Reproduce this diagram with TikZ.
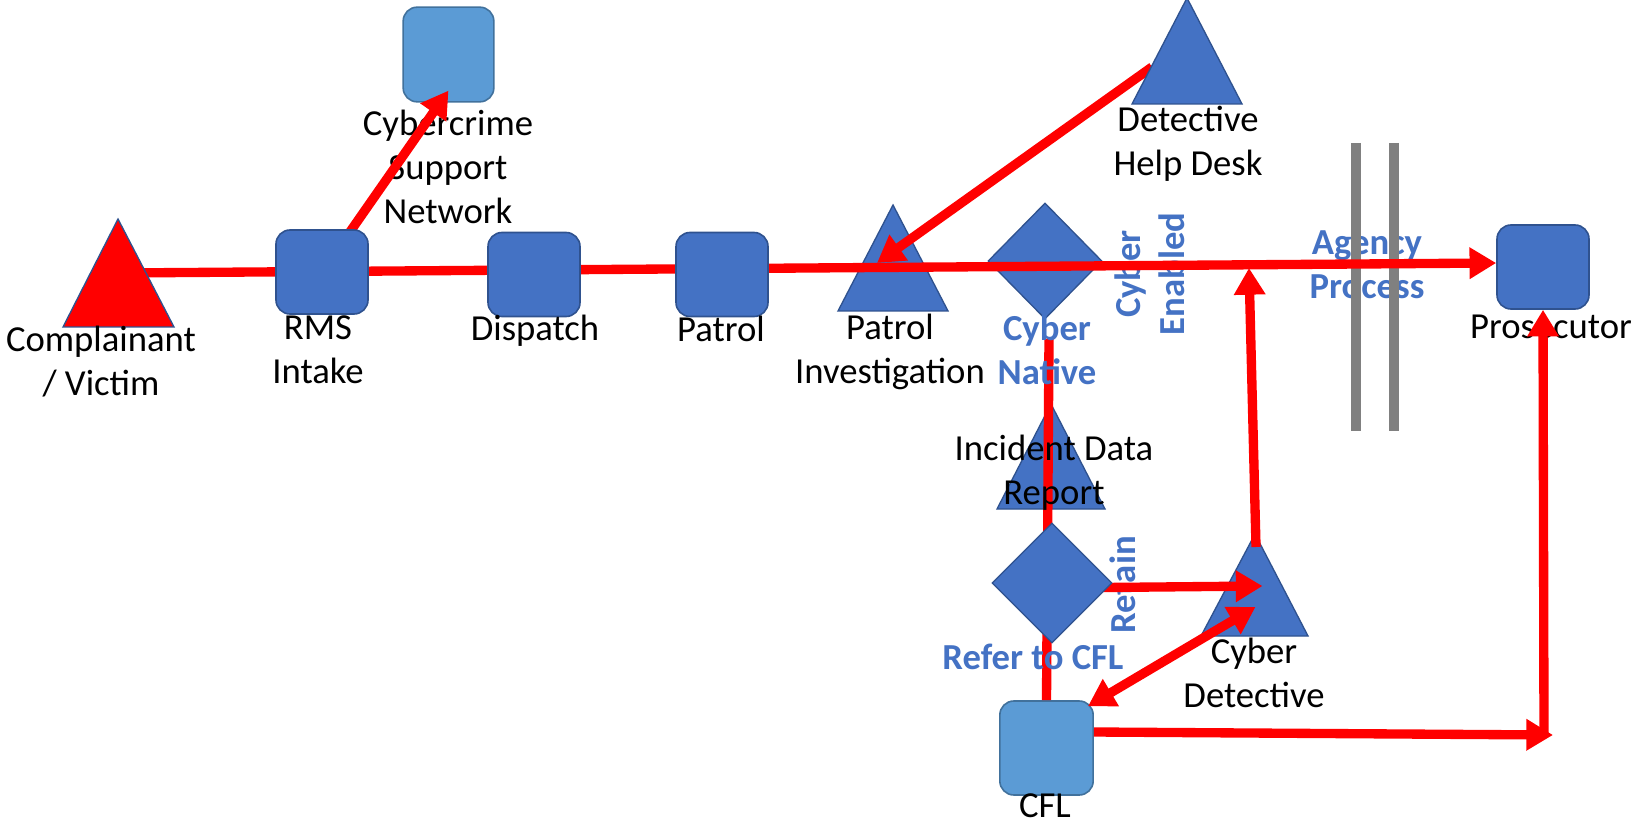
\documentclass[tikz,border=0pt]{standalone}
\usepackage{fontspec}
\setmainfont{Carlito}
\usetikzlibrary{arrows.meta,shapes.geometric,calc}

\definecolor{shapeblue}{HTML}{4472C4}
\definecolor{shapeedge}{HTML}{2F528F}
\definecolor{paleblue}{HTML}{5B9BD5}
\definecolor{paleedge}{HTML}{41719C}
\definecolor{flowred}{HTML}{FF0000}
\definecolor{bargray}{HTML}{808080}

\pgfdeclarelayer{back}
\pgfdeclarelayer{bars}
\pgfdeclarelayer{links}
\pgfsetlayers{back,bars,links,main}

\tikzset{
  lbl/.style={align=center, inner sep=0pt, font=\fontsize{27.5}{33}\selectfont},
  bluelbl/.style={lbl, text=shapeblue, font=\fontsize{27.5}{33}\selectfont\bfseries},
  rbox/.style={rectangle, rounded corners=10.5pt, draw=shapeedge, line width=1.2pt,
    fill=shapeblue, minimum width=69pt, minimum height=63pt, inner sep=0pt},
  lightbox/.style={rbox, fill=paleblue, draw=paleedge},
  decision/.style={diamond, draw=shapeedge, line width=1pt, fill=shapeblue, inner sep=0pt},
  marker/.style={draw=shapeedge, line width=1pt, fill=shapeblue},
  flowplain/.style={draw=flowred, line width=7pt},
  flow/.style={flowplain, -{Triangle[length=20pt,width=22.5pt]}},
  flowboth/.style={flowplain, {Triangle[length=20pt,width=22.5pt]}-{Triangle[length=20pt,width=22.5pt]}},
  divider/.style={draw=bargray, line width=7.5pt},
}

\begin{document}
\begin{tikzpicture}[x=0.75pt,y=-0.75pt]
\useasboundingbox (0,0) rectangle (1635,827);

% centres of the triangular markers
\coordinate (comp) at (118,273);
\coordinate (pinv) at (893,258);
\coordinate (hd) at (1187,52);
\coordinate (idr) at (1051,456);
\coordinate (cdet) at (1254.5,585);
% free ends of connectors
\coordinate (joinEnabled) at (1249,268);
\coordinate (turn) at (1544,737);

% ---------- shapes lying under the flow lines ----------
\begin{pgfonlayer}{back}
  \node[bluelbl] (agL) at (1367,265) {Agency\\Process};
  \filldraw[marker] (893,205) -- (948,311) -- (838,311) -- cycle;
  \node[decision, minimum width=85.5pt, minimum height=87pt] (cn) at (1045,261) {};
  \node[bluelbl, rotate=90] (ceL) at (1150,274) {Cyber\\Enabled};
  \filldraw[marker] (1051,404) -- (1105,509) -- (997,509) -- cycle;
  \node[lightbox, minimum width=68pt, minimum height=71pt] (csn) at (448.5,54.5) {};
  \node[lbl] (csnL) at (448,167) {Cybercrime\\Support\\Network};
  \filldraw[marker] (1255,534) -- (1308,636) -- (1201,636) -- cycle;
  \node[lbl] (prosL) at (1551,327) {Prosecutor};
  \node[bluelbl, rotate=90] (retL) at (1123,585) {Retain};
  \node[lightbox, minimum width=70pt, minimum height=70.5pt] (cfl) at (1046.5,748) {};
\end{pgfonlayer}

% ---------- agency boundary ----------
\begin{pgfonlayer}{bars}
  \draw[divider] (1356,143) -- (1356,431);
  \draw[divider] (1394,143) -- (1394,431);
\end{pgfonlayer}

% ---------- shapes on top ----------
\filldraw[marker, fill=flowred] (118,219) -- (174,327) -- (63,327) -- cycle;
\node[rbox] (rms) at (322,272) {};
\node[rbox] (dispatch) at (534,274.5) {};
\node[rbox] (patrol) at (722,274.5) {};
\node[rbox] (pros) at (1543,267) {};
\filldraw[marker] (1187,-2) -- (1242,104) -- (1132,104) -- cycle;
\node[decision, minimum width=90pt, minimum height=90pt] (d2) at (1052,583) {};

\node[lbl] (compL) at (101,361.5) {Complainant\\/ Victim};
\node[lbl] (rmsL) at (318,350) {RMS\\Intake};
\node[lbl] (dispL) at (535,331) {Dispatch};
\node[lbl] (patL) at (721,329) {Patrol};
\node[lbl] (piL) at (890,352) {Patrol\\Investigation};
\node[bluelbl] (cnL) at (1047,350) {Cyber\\Native};
\node[lbl] (hdL) at (1188,144) {Detective\\Help Desk};
\node[lbl] (idrL) at (1054,473) {Incident Data\\Report};
\node[bluelbl] (rcL) at (1033,657) {Refer to CFL};
\node[lbl] (cdL) at (1254,673) {Cyber\\Detective};
\node[lbl] (cflL) at (1045,806) {CFL};

% ---------- flow lines ----------
\begin{pgfonlayer}{links}
  \draw[flow] (comp) -- ($(pros.west)+(0,-4)$);
  \draw[flow] (rms.center) -- ($(csn.center)!0.75!(csn.south)$);
  \draw[flow] ($(hd)+(-35,15)$) -- ($(pinv)+(-16,5)$);
  \draw[flowplain] ($(cn.south)+(4,19)$) -- (cfl.north);
  \draw[flow] ($(d2.center)+(0,5)$) -- ($(cdet)+(8,1)$);
  \draw[flowboth] ($(cfl.north east)+(-6,6)$) -- ($(cdet)+(1,22)$);
  \draw[flow] ($(cdet)+(1.5,-38)$) -- (joinEnabled);
  \draw[flow] ($(cfl.east)+(0,-16)$) -- ($(turn)+(9,-2)$);
  \draw[flow] (turn) -- (pros.south);
\end{pgfonlayer}
\end{tikzpicture}
\end{document}
